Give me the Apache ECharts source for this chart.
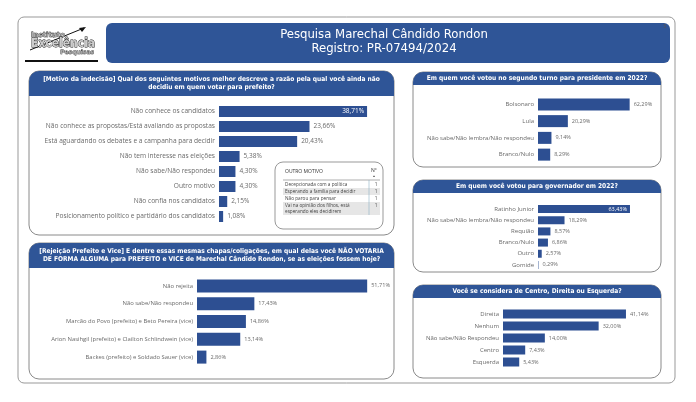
<!DOCTYPE html>
<html>
<head>
<meta charset="utf-8">
<script src="https://cdn.jsdelivr.net/npm/echarts@6/dist/echarts.min.js"></script>
<style>
  html, body { margin: 0; padding: 0; background: #fff; }
  #chart { width: 696px; height: 402px; }
</style>
</head>
<body>
<div id="chart"></div>
<script>
// data
const motivoCats = ['Não conhece os candidatos', 'Não conhece as propostas/Está avaliando as propostas', 'Está aguardando os debates e a campanha para decidir', 'Não tem interesse nas eleições', 'Não sabe/Não respondeu', 'Outro motivo', 'Não confia nos candidatos', 'Posicionamento político e partidário dos candidatos'];
const motivoVals = [38.71, 23.66, 20.43, 5.38, 4.30, 4.30, 2.15, 1.08];

const rejeicaoCats = ['Não rejeita', 'Não sabe/Não respondeu', 'Marcão do Povo (prefeito) e Beto Pereira (vice)', 'Arion Nasihgil (prefeito) e Clailton Schlindwein (vice)', 'Backes (prefeito) e Soldado Sauer (vice)'];
const rejeicaoVals = [51.71, 17.43, 14.86, 13.14, 2.86];

const presidenteCats = ['Bolsonaro', 'Lula', 'Não sabe/Não lembra/Não respondeu', 'Branco/Nulo'];
const presidenteVals = [62.29, 20.29, 9.14, 8.29];

const governadorCats = ['Ratinho Junior', 'Não sabe/Não lembra/Não respondeu', 'Requião', 'Branco/Nulo', 'Outro', 'Gomide'];
const governadorVals = [63.43, 18.29, 8.57, 6.86, 2.57, 0.29];

const ideologiaCats = ['Direita', 'Nenhum', 'Não sabe/Não Respondeu', 'Centro', 'Esquerda'];
const ideologiaVals = [41.14, 32.00, 14.00, 7.43, 5.43];

const outroMotivoRows = [['Decepcionada com a política'], ['Esperando a família para decidir'], ['Não parou para pensar'], ['Vai na opinião dos filhos, está', 'esperando eles decidirem']];
const outroMotivoCounts = [1, 1, 1, 1];

const BAR = '#2d4f92';
const HEAD = '#2f5597';
const GRAY = '#6a6a6a';
const HFONT = 'DejaVu Sans Condensed';
const LFONT = 'Open Sans';

const pct = v => v.toFixed(2).replace('.', ',') + '%';

// one block per bar chart: grid place, axis max, bar size, fonts
const charts = [
  { cats: motivoCats, vals: motivoVals, left: 219, top: 104, width: 153, height: 120, max: 40, bw: 11, fs: 6.6, vfs: 6.5, inside: 0 },
  { cats: rejeicaoCats, vals: rejeicaoVals, left: 197, top: 277, width: 181, height: 89, max: 55, bw: 13, fs: 5.9, vfs: 5.6, inside: -1 },
  { cats: presidenteCats, vals: presidenteVals, left: 538, top: 96, width: 103, height: 67, max: 70, bw: 12, fs: 6, vfs: 5.5, inside: -1 },
  { cats: governadorCats, vals: governadorVals, left: 538, top: 203.5, width: 101.5, height: 67, max: 70, bw: 8, fs: 6, vfs: 5.5, inside: 0 },
  { cats: ideologiaCats, vals: ideologiaVals, left: 503, top: 308, width: 134.5, height: 60, max: 45, bw: 9, fs: 6, vfs: 5.5, inside: -1 }
];

// panel frames and header texts
const panels = [
  { x: 29, y: 71, w: 365, h: 164, hh: 25, lines: ['[Motivo da indecisão] Qual dos seguintes motivos melhor descreve a razão pela qual você ainda não', 'decidiu em quem votar para prefeito?'] },
  { x: 29, y: 243, w: 365, h: 136, hh: 25, lines: ['[Rejeição Prefeito e Vice] E dentre essas mesmas chapas/coligações, em qual delas você NÃO VOTARIA', 'DE FORMA ALGUMA para PREFEITO e VICE de Marechal Cândido Rondon, se as eleições fossem hoje?'] },
  { x: 413, y: 72, w: 248, h: 95, hh: 13, lines: ['Em quem você votou no segundo turno para presidente em 2022?'] },
  { x: 413, y: 180, w: 248, h: 92, hh: 13, lines: ['Em quem você votou para governador em 2022?'] },
  { x: 413, y: 285, w: 248, h: 93, hh: 13, lines: ['Você se considera de Centro, Direita ou Esquerda?'] }
];

const graphic = [];
// outer sheet
graphic.push({ type: 'rect', shape: { x: 18, y: 17, width: 657, height: 366, r: 6 }, style: { fill: '#fff', stroke: '#999', lineWidth: 1 }, z: 0 });
// title banner
graphic.push({ type: 'rect', shape: { x: 106, y: 23, width: 564, height: 40, r: 6 }, style: { fill: HEAD }, z: 1 });
graphic.push({ type: 'text', x: 384, y: 35, style: { text: 'Pesquisa Marechal Cândido Rondon', fill: '#fff', font: '13px ' + HFONT, textAlign: 'center', textVerticalAlign: 'middle' }, z: 2 });
graphic.push({ type: 'text', x: 384, y: 49, style: { text: 'Registro: PR-07494/2024', fill: '#fff', font: '13px ' + HFONT, textAlign: 'center', textVerticalAlign: 'middle' }, z: 2 });
graphic.push({ type: 'text', x: 665, y: 27, style: { text: '5', fill: '#555', font: '5px sans-serif', textAlign: 'center', textVerticalAlign: 'middle' }, z: 2 });

// logo
graphic.push({ type: 'line', shape: { x1: 30, y1: 50, x2: 84, y2: 28 }, style: { stroke: '#111', lineWidth: 1 }, z: 2 });
graphic.push({ type: 'polygon', shape: { points: [[86, 27], [79, 28], [82, 32]] }, style: { fill: '#111' }, z: 2 });
graphic.push({ type: 'text', x: 31, y: 35, style: { text: 'Instituto', fill: '#aaa', stroke: '#111', lineWidth: 0.6, font: 'bold 7px DejaVu Sans', textVerticalAlign: 'middle' }, z: 3 });
graphic.push({ type: 'text', x: 31, y: 44, style: { text: 'Excelência', fill: '#ccc', stroke: '#111', lineWidth: 0.8, font: 'bold 12px DejaVu Sans Condensed', textVerticalAlign: 'middle' }, z: 3 });
graphic.push({ type: 'text', x: 94, y: 52, style: { text: 'Pesquisas', fill: '#aaa', stroke: '#111', lineWidth: 0.5, font: 'bold 6px DejaVu Sans', textAlign: 'right', textVerticalAlign: 'middle' }, z: 3 });
graphic.push({ type: 'rect', shape: { x: 25, y: 60, width: 73, height: 2 }, style: { fill: '#111' }, z: 2 });

panels.forEach(p => {
  graphic.push({ type: 'rect', shape: { x: p.x, y: p.y, width: p.w, height: p.h, r: 10 }, style: { fill: '#fff', stroke: '#8a8a8a', lineWidth: 1 }, z: 1 });
  graphic.push({ type: 'rect', shape: { x: p.x, y: p.y, width: p.w, height: p.hh, r: [10, 10, 0, 0] }, style: { fill: HEAD }, z: 2 });
  const step = 8.5;
  const y0 = p.y + p.hh / 2 - (p.lines.length - 1) * step / 2;
  p.lines.forEach((t, i) => {
    graphic.push({ type: 'text', x: p.x + p.w / 2, y: y0 + i * step, style: { text: t, fill: '#fff', font: 'bold 6.6px ' + HFONT, textAlign: 'center', textVerticalAlign: 'middle' }, z: 3 });
  });
});

// "Outro motivo" table
graphic.push({ type: 'rect', shape: { x: 275, y: 162, width: 108, height: 67, r: 8 }, style: { fill: '#fff', stroke: '#999', lineWidth: 1 }, z: 3 });
graphic.push({ type: 'text', x: 285, y: 172, style: { text: 'OUTRO MOTIVO', fill: '#333', font: '5px ' + LFONT, textVerticalAlign: 'middle' }, z: 4 });
graphic.push({ type: 'text', x: 374, y: 171, style: { text: 'N°', fill: '#333', font: '5px ' + LFONT, textAlign: 'center', textVerticalAlign: 'middle' }, z: 4 });
graphic.push({ type: 'text', x: 374, y: 176, style: { text: '▲', fill: '#333', font: '3px ' + LFONT, textAlign: 'center', textVerticalAlign: 'middle' }, z: 4 });
graphic.push({ type: 'line', shape: { x1: 283, y1: 180, x2: 380, y2: 180 }, style: { stroke: '#777', lineWidth: 0.6 }, z: 4 });
let ry = 181;
outroMotivoRows.forEach((lines, i) => {
  const rh = lines.length * 6 + 1;
  if (i % 2 === 1) {
    graphic.push({ type: 'rect', shape: { x: 283, y: ry, width: 97, height: rh }, style: { fill: '#e6e6e6' }, z: 4 });
  }
  lines.forEach((t, j) => {
    graphic.push({ type: 'text', x: 285, y: ry + 3.5 + j * 6, style: { text: t, fill: '#444', font: '4.7px ' + LFONT, textVerticalAlign: 'middle' }, z: 5 });
  });
  graphic.push({ type: 'text', x: 376, y: ry + 3.5, style: { text: String(outroMotivoCounts[i]), fill: '#444', font: '4.7px ' + LFONT, textAlign: 'center', textVerticalAlign: 'middle' }, z: 5 });
  ry += rh;
});
graphic.push({ type: 'line', shape: { x1: 369, y1: 180, x2: 369, y2: ry }, style: { stroke: '#8fb3c8', lineWidth: 0.6 }, z: 5 });

const grid = [], xAxis = [], yAxis = [], series = [];
charts.forEach((c, i) => {
  grid.push({ left: c.left, top: c.top, width: c.width, height: c.height, containLabel: false });
  xAxis.push({ type: 'value', gridIndex: i, min: 0, max: c.max, show: false });
  yAxis.push({
    type: 'category', gridIndex: i, data: c.cats, inverse: true, z: 6,
    axisLine: { show: false }, axisTick: { show: false },
    axisLabel: { color: GRAY, fontSize: c.fs, fontFamily: LFONT, margin: 4, interval: 0 }
  });
  series.push({
    type: 'bar', xAxisIndex: i, yAxisIndex: i, barWidth: c.bw,
    itemStyle: { color: BAR }, z: 5,
    label: { show: true, position: 'right', distance: 4, color: GRAY, fontSize: c.vfs, fontFamily: LFONT, formatter: p => pct(p.value) },
    data: c.vals.map((v, k) => k === c.inside
      ? { value: v, label: { position: 'insideRight', color: '#fff', distance: 3 } }
      : v)
  });
});

const chart = echarts.init(document.getElementById('chart'), null, { renderer: 'canvas' });
chart.setOption({
  backgroundColor: '#fff',
  animation: false,
  graphic,
  grid, xAxis, yAxis, series
});
</script>
</body>
</html>
